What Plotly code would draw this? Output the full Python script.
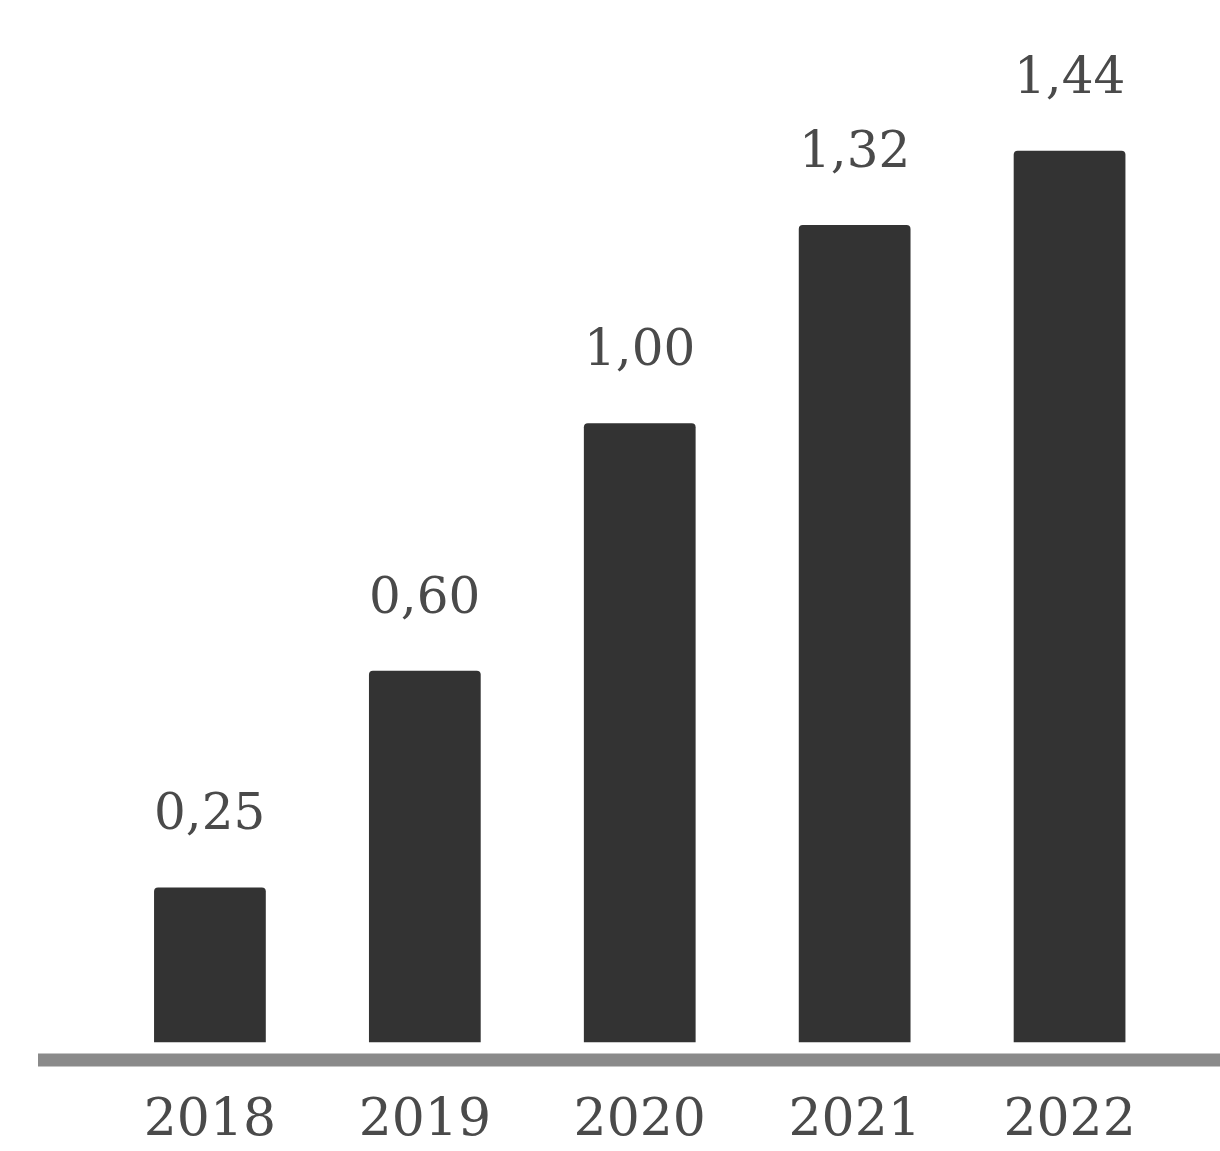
import plotly.graph_objects as go

# Annual values per year
years = ["2018", "2019", "2020", "2021", "2022"]
values = [0.25, 0.60, 1.00, 1.32, 1.44]
value_labels = ["0,25", "0,60", "1,00", "1,32", "1,44"]

bar_color = "#333333"
text_color = "#4a4a4a"
font_family = "DejaVu Serif"

fig = go.Figure()
fig.add_trace(go.Bar(
    x=years,
    y=values,
    marker=dict(color=bar_color, line=dict(width=0), cornerradius=4),
    hoverinfo="skip",
))

# Value labels above each bar (x given as category index)
for i, (v, lab) in enumerate(zip(values, value_labels)):
    fig.add_annotation(
        x=i, y=v, xref="x", yref="y", text=lab, showarrow=False,
        xanchor="center", yanchor="bottom", yshift=44,
        font=dict(family=font_family, size=50, color=text_color),
    )

# Thick baseline across the plot, just below the bars
fig.add_shape(
    type="line", xref="paper", yref="y",
    x0=0, x1=1, y0=-0.029, y1=-0.029,
    line=dict(color="#8a8a8a", width=13),
)

fig.update_layout(
    width=1220, height=1151,
    margin=dict(l=38, r=0, t=40, b=81, autoexpand=False),
    plot_bgcolor="white", paper_bgcolor="white",
    bargap=0.48,
    showlegend=False,
    xaxis=dict(
        type="category", range=[-0.8, 4.7],
        showgrid=False, zeroline=False, showline=False,
        ticks="", ticklabelstandoff=12, automargin=False,
        tickfont=dict(family=font_family, size=52, color=text_color),
    ),
    yaxis=dict(
        range=[-0.045, 1.619],
        showgrid=False, zeroline=False, showline=False,
        showticklabels=False, ticks="", automargin=False,
    ),
)

fig.write_html("out.html")
